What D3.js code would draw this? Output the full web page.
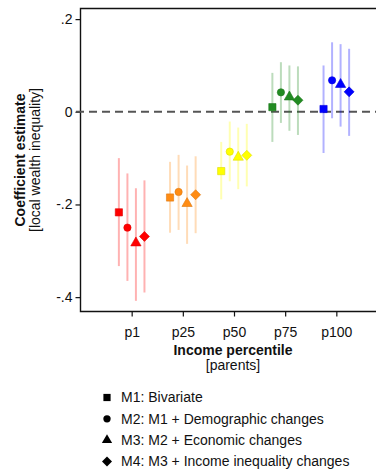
<!DOCTYPE html>
<html><head><meta charset="utf-8">
<script src="https://cdn.jsdelivr.net/npm/d3@7"></script>
<style>body{margin:0;background:#fff}svg{display:block}text{font-family:"Liberation Sans",Arial,Helvetica,sans-serif}</style>
</head><body><svg id="c" width="376" height="472"></svg>
<script>
const groups = ["p1","p25","p50","p75","p100"];
const groupColors = ["#ff0000","#ff8c14","#ffff00","#228b22","#0000ff"];
const models = ["M1: Bivariate","M2: M1 + Demographic changes","M3: M2 + Economic changes","M4: M3 + Income inequality changes"];
const modelShapes = ["square","circle","triangle","diamond"];
// estimates[group][model]
const estimates = [
  [-0.217,-0.250,-0.283,-0.269],
  [-0.185,-0.173,-0.198,-0.179],
  [-0.128,-0.086,-0.098,-0.094],
  [0.010,0.042,0.032,0.025],
  [0.006,0.068,0.059,0.043]
];
const ciLow = [
  [-0.333,-0.365,-0.408,-0.390],
  [-0.261,-0.255,-0.285,-0.262],
  [-0.189,-0.150,-0.167,-0.161],
  [-0.065,-0.024,-0.041,-0.050],
  [-0.089,-0.014,-0.032,-0.052]
];
const ciHigh = [
  [-0.100,-0.133,-0.165,-0.148],
  [-0.108,-0.093,-0.116,-0.096],
  [-0.065,-0.021,-0.034,-0.026],
  [0.084,0.107,0.100,0.098],
  [0.100,0.150,0.146,0.136]
];
const yTicks = [0.2,0,-0.2,-0.4];
const yTickLabels = [".2","0","-.2","-.4"];
const modelOffsets = [-0.25,-0.083,0.083,0.25];

const svg = d3.select("#c");
const x = d3.scaleLinear().domain([0,6]).range([80.5,387.5]);
const y = d3.scaleLinear().domain([-0.431,0.224]).range([311.5,8]);

// frame
svg.append("path").attr("d",`M${x(6)+5},8.5H80.5V311.5H${x(6)+5}`)
  .attr("fill","none").attr("stroke","#111").attr("stroke-width",1.4);

// y axis
const ya = svg.append("g").attr("transform","translate(80.5,0)")
  .call(d3.axisLeft(y).tickValues(yTicks).tickSize(5).tickFormat((d,i)=>yTickLabels[i]));
ya.select(".domain").remove();
ya.selectAll("line").attr("stroke","#111").attr("stroke-width",1.2);
ya.selectAll("text").attr("font-size",14).attr("fill","#111").attr("x",-8).attr("font-family","Liberation Sans, Arial, sans-serif");

// x axis
const xa = svg.append("g").attr("transform","translate(0,311.5)")
  .call(d3.axisBottom(x).tickValues(groups.map((g,i)=>i+1)).tickSize(5).tickFormat((d,i)=>groups[i]));
xa.select(".domain").remove();
xa.selectAll("line").attr("stroke","#111").attr("stroke-width",1.2);
xa.selectAll("text").attr("font-size",14).attr("fill","#111").attr("dy","1.25em").attr("font-family","Liberation Sans, Arial, sans-serif");

// zero dashed line
svg.append("line").attr("x1",76).attr("x2",376).attr("y1",y(0)).attr("y2",y(0))
  .attr("stroke","#555").attr("stroke-width",2).attr("stroke-dasharray","8,5");

// CI lines
const pts = [];
groups.forEach((g,gi)=>models.forEach((m,mi)=>pts.push({gi,mi,v:estimates[gi][mi],lo:ciLow[gi][mi],hi:ciHigh[gi][mi]})));
svg.append("g").selectAll("line").data(pts).join("line")
  .attr("x1",d=>x(d.gi+1+modelOffsets[d.mi])).attr("x2",d=>x(d.gi+1+modelOffsets[d.mi]))
  .attr("y1",d=>y(d.lo)).attr("y2",d=>y(d.hi))
  .attr("stroke",d=>groupColors[d.gi]).attr("stroke-opacity",0.3).attr("stroke-width",2);

const diamondType = {draw(ctx,size){const r=Math.sqrt(size/2);ctx.moveTo(0,-r);ctx.lineTo(r,0);ctx.lineTo(0,r);ctx.lineTo(-r,0);ctx.closePath();}};
const symTypes = {square:d3.symbolSquare,circle:d3.symbolCircle,triangle:d3.symbolTriangle,diamond:diamondType};
const symSizes = {square:52,circle:42,triangle:46,diamond:50};
const sym = s=>d3.symbol().type(symTypes[s]).size(symSizes[s])();
svg.append("g").selectAll("path").data(pts).join("path")
  .attr("d",d=>sym(modelShapes[d.mi]))
  .attr("transform",d=>`translate(${x(d.gi+1+modelOffsets[d.mi])},${y(d.v)})`)
  .attr("fill",d=>groupColors[d.gi])
  .attr("stroke",d=>d3.color(groupColors[d.gi]).darker(0.4)).attr("stroke-width",0.6);

// axis titles
svg.append("text").attr("transform","translate(25,160) rotate(-90)").attr("text-anchor","middle")
  .attr("font-weight","bold").attr("font-size",14).attr("fill","#111").text("Coefficient estimate");
svg.append("text").attr("transform","translate(40,160) rotate(-90)").attr("text-anchor","middle")
  .attr("font-size",14).attr("fill","#111").text("[local wealth inequality]");
svg.append("text").attr("x",233).attr("y",355).attr("text-anchor","middle").attr("font-weight","bold")
  .attr("font-size",14).attr("fill","#111").text("Income percentile");
svg.append("text").attr("x",233).attr("y",370).attr("text-anchor","middle")
  .attr("font-size",14).attr("fill","#111").text("[parents]");

// legend
const lg = svg.append("g").selectAll("g").data(models).join("g")
  .attr("transform",(d,i)=>`translate(107,${397.5+i*21.3})`);
lg.append("path").attr("d",(d,i)=>sym(modelShapes[i])).attr("fill","#000");
lg.append("text").attr("x",14).attr("dy","0.35em").attr("font-size",14).attr("fill","#111").text(d=>d);
</script></body></html>
